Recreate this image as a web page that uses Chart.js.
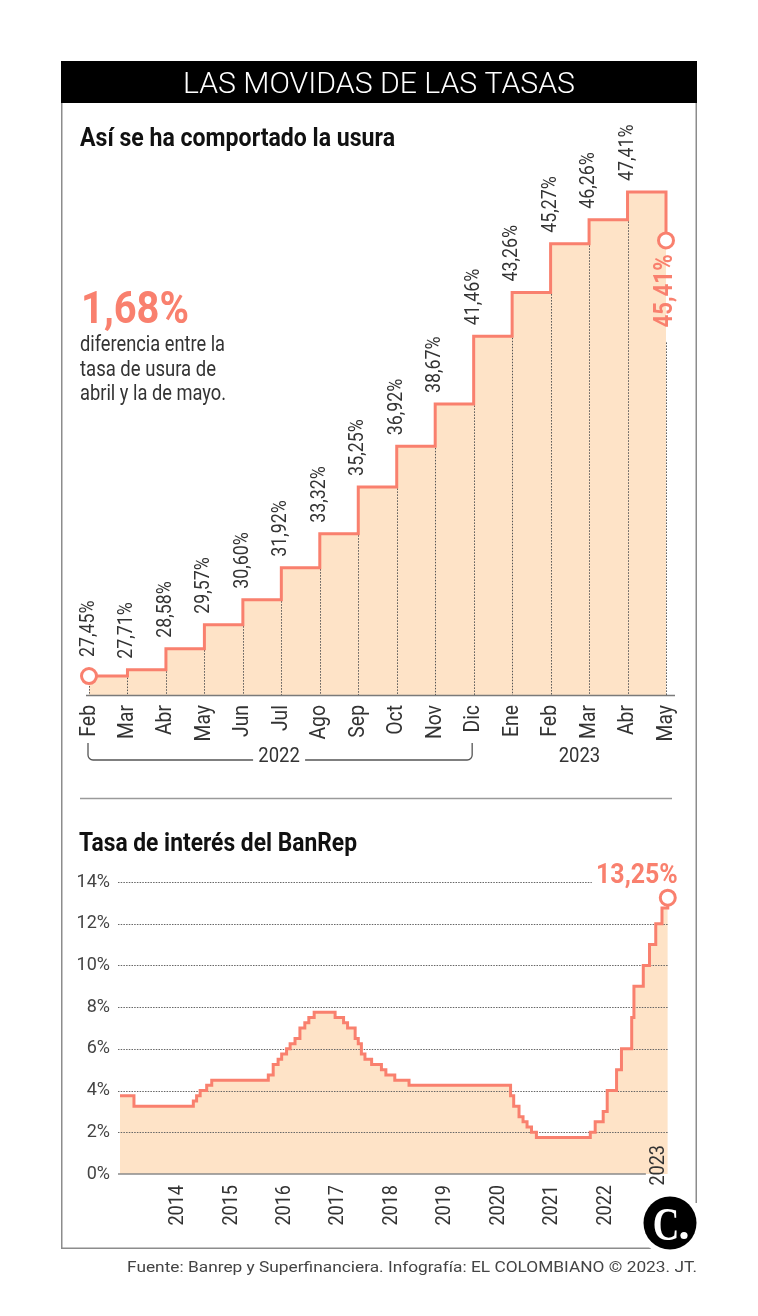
<!DOCTYPE html>
<html>
<head>
<meta charset="utf-8">
<script src="https://cdn.jsdelivr.net/npm/chart.js@4.4.0/dist/chart.umd.min.js"></script>
<style>
  html, body { margin: 0; padding: 0; background: #fff; }
  #wrap { position: relative; width: 758px; height: 1316px; overflow: hidden; background: #fff; }
  canvas { position: absolute; }
  #bg { left: 0; top: 0; }
  #c1 { left: 61px; top: 104px; }
  #c2 { left: 61px; top: 856px; }
</style>
</head>
<body>
<div id="wrap">
  <canvas id="bg" width="758" height="1316"></canvas>
  <canvas id="c1" width="636" height="700"></canvas>
  <canvas id="c2" width="636" height="394"></canvas>
</div>
<script>
// ---------------- DATA ----------------
const usuraMonths = ['Feb','Mar','Abr','May','Jun','Jul','Ago','Sep','Oct','Nov','Dic','Ene','Feb','Mar','Abr','May'];
const usuraRates  = [27.45, 27.71, 28.58, 29.57, 30.60, 31.92, 33.32, 35.25, 36.92, 38.67, 41.46, 43.26, 45.27, 46.26, 47.41, 45.41];
const usuraYears  = ['2022', '2023'];

const banrepDates = [
  '2012-12-01','2013-03-05','2014-04-15','2014-05-07','2014-06-01','2014-07-15','2014-08-19',
  '2015-09-10','2015-10-13','2015-11-16','2015-12-10','2016-01-13','2016-02-07','2016-03-10',
  '2016-04-13','2016-05-16','2016-06-13','2016-07-19','2016-12-10','2017-02-07','2017-03-04',
  '2017-04-25','2017-05-16','2017-06-07','2017-07-01','2017-08-16','2017-10-22','2017-11-22',
  '2018-01-22','2018-04-28','2020-03-22','2020-04-13','2020-05-19','2020-06-16','2020-07-13',
  '2020-08-13','2020-09-16','2021-09-19','2021-10-22','2021-12-16','2022-01-13','2022-03-16',
  '2022-04-19','2022-06-28','2022-07-13','2022-09-16','2022-10-28','2022-12-10','2023-01-22',
  '2023-03-01'
];
const banrepRates = [
  3.75, 3.25, 3.50, 3.75, 4.00, 4.25, 4.50,
  4.75, 5.25, 5.50, 5.75, 6.00, 6.25, 6.50,
  7.00, 7.25, 7.50, 7.75, 7.50, 7.25, 7.00,
  6.50, 6.25, 5.75, 5.50, 5.25, 5.00, 4.75,
  4.50, 4.25, 3.75, 3.25, 2.75, 2.50, 2.25,
  2.00, 1.75, 2.00, 2.50, 3.00, 4.00, 5.00,
  6.00, 7.50, 9.00, 10.00, 11.00, 12.00, 12.75,
  13.25
];
const banrepYearTicks = [2014, 2015, 2016, 2017, 2018, 2019, 2020, 2021, 2022, 2023];
const banrepPctTicks  = [0, 2, 4, 6, 8, 10, 12, 14];

const headerTitle = 'LAS MOVIDAS DE LAS TASAS';
const title1 = 'Así se ha comportado la usura';
const title2 = 'Tasa de interés del BanRep';
const diffValue = '1,68%';
const diffText = ['diferencia entre la', 'tasa de usura de', 'abril y la de mayo.'];
const footer = 'Fuente: Banrep y Superfinanciera. Infografía: EL COLOMBIANO © 2023. JT.';

// ---------------- STYLE ----------------
const SALMON = '#F9806E';
const PEACH  = '#FEE3C7';
const INK    = '#333333';
const FONT   = 'Roboto, "Noto Sans", sans-serif';

function fmt(v) { return v.toFixed(2).replace('.', ',') + '%'; }
function monthIndex(d) {
  const [y, m, dd] = d.split('-').map(Number);
  return (y - 2014) * 12 + (m - 1) + (dd - 1) / 30;
}

// text helper with horizontal condensing (along reading direction)
function txt(ctx, s, x, y, o = {}) {
  ctx.save();
  ctx.font = `${o.weight || 400} ${o.size || 16}px ${o.family || FONT}`;
  ctx.fillStyle = o.color || INK;
  ctx.textBaseline = o.baseline || 'alphabetic';
  ctx.textAlign = 'left';
  ctx.translate(x, y);
  if (o.rot) ctx.rotate(o.rot);
  const w = ctx.measureText(s).width;
  const sx = o.width ? o.width / w : (o.sx || 1);
  ctx.scale(sx, 1);
  const ox = o.align === 'center' ? -w / 2 : (o.align === 'right' ? -w : 0);
  ctx.fillText(s, ox, 0);
  ctx.restore();
}

// ---------------- STATIC LAYER ----------------
(function drawStatic() {
  const ctx = document.getElementById('bg').getContext('2d');
  // frame
  ctx.strokeStyle = '#8c8c8c';
  ctx.lineWidth = 1.5;
  ctx.beginPath();
  ctx.moveTo(61.75, 61); ctx.lineTo(61.75, 1248.25); ctx.lineTo(652, 1248.25);
  ctx.moveTo(696.25, 103); ctx.lineTo(696.25, 1203);
  ctx.stroke();
  // header
  ctx.fillStyle = '#000';
  ctx.fillRect(61, 61, 636, 42);
  txt(ctx, headerTitle, 379, 93, { size: 30, weight: 300, color: '#fff', align: 'center', width: 392 });
  // titles
  txt(ctx, title1, 80, 146, { size: 25, weight: 700, color: '#111', width: 315 });
  txt(ctx, title2, 79, 851, { size: 25, weight: 700, color: '#111', width: 278 });
  // big number + text
  txt(ctx, diffValue, 81, 323, { size: 44, weight: 700, color: SALMON, width: 108 });
  const bw = [145, 136, 146];
  diffText.forEach((s, i) => txt(ctx, s, 80, 351 + i * 24.5, { size: 21.5, color: INK, width: bw[i] }));
  // separator
  ctx.strokeStyle = '#9a9a9a';
  ctx.lineWidth = 1.5;
  ctx.beginPath(); ctx.moveTo(80, 798.5); ctx.lineTo(672, 798.5); ctx.stroke();
  // logo
  ctx.fillStyle = '#fff';
  ctx.beginPath(); ctx.arc(670, 1223, 32, 0, Math.PI * 2); ctx.fill();
  ctx.fillStyle = '#000';
  ctx.beginPath(); ctx.arc(670, 1223, 26.5, 0, Math.PI * 2); ctx.fill();
  txt(ctx, 'C', 666, 1240, { size: 46, weight: 700, family: '"Liberation Serif", "DejaVu Serif", serif', color: '#fff', align: 'center', sx: 0.8 });
  ctx.fillStyle = '#fff';
  ctx.beginPath(); ctx.arc(684, 1235.5, 3.6, 0, Math.PI * 2); ctx.fill();
  // footer
  txt(ctx, footer, 697, 1272, { size: 15.5, color: '#444', align: 'right', width: 570 });
})();

// ---------------- TOP CHART: USURA ----------------
const usuraDeco = {
  id: 'usuraDeco',
  afterDatasetDraw(chart, args) {
    if (args.index !== 0) return;
    const { ctx, chartArea } = chart;
    const xs = chart.scales.x, ys = chart.scales.y;
    const n = usuraRates.length;
    ctx.save();
    ctx.strokeStyle = '#555';
    ctx.lineWidth = 1;
    ctx.setLineDash([1.5, 1.5]);
    for (let i = 0; i < n; i++) {
      const x = Math.round(xs.getPixelForValue(i)) + 0.5;
      let y0;
      if (i === 0) y0 = ys.getPixelForValue(usuraRates[0]) + 10;
      else if (i === n - 1) y0 = ys.getPixelForValue(usuraRates[n - 1]) + 102;
      else y0 = ys.getPixelForValue(Math.min(usuraRates[i], usuraRates[i - 1])) + 1.5;
      ctx.beginPath(); ctx.moveTo(x, y0); ctx.lineTo(x, chartArea.bottom); ctx.stroke();
    }
    ctx.restore();
  },
  afterDraw(chart) {
    const { ctx, chartArea } = chart;
    const xs = chart.scales.x, ys = chart.scales.y;
    const n = usuraRates.length;
    const bottom = chartArea.bottom;
    ctx.save();
    // axis line
    ctx.strokeStyle = '#7a7a7a';
    ctx.lineWidth = 1.5;
    ctx.beginPath();
    ctx.moveTo(xs.getPixelForValue(0) - 3, bottom + 0.5);
    ctx.lineTo(xs.getPixelForValue(n - 1) + 9, bottom + 0.5);
    ctx.stroke();
    // value labels
    for (let i = 0; i < n - 1; i++) {
      const x = xs.getPixelForValue(i);
      const y = ys.getPixelForValue(usuraRates[i]) - (i === 0 ? 19 : 11);
      txt(ctx, fmt(usuraRates[i]), x, y, { size: 20, sx: 0.89, rot: -Math.PI / 2, align: 'left', baseline: 'middle', color: INK });
    }
    {
      const x = xs.getPixelForValue(n - 1);
      const y = ys.getPixelForValue(usuraRates[n - 1]) + 14;
      txt(ctx, fmt(usuraRates[n - 1]), x, y, { size: 25, weight: 700, sx: 0.89, rot: -Math.PI / 2, align: 'right', baseline: 'middle', color: SALMON });
    }
    // month labels
    for (let i = 0; i < n; i++) {
      const x = xs.getPixelForValue(i);
      txt(ctx, usuraMonths[i], x, bottom + 10, { size: 22, sx: 0.88, rot: -Math.PI / 2, align: 'right', baseline: 'middle', color: INK });
    }
    // bracket for 2022
    const xa = xs.getPixelForValue(0) - 1, xb = xs.getPixelForValue(10) - 1.5;
    const yl = bottom + 65, yt = bottom + 48, r = 5;
    const cx = (xa + xb) / 2;
    ctx.strokeStyle = '#555';
    ctx.lineWidth = 1.3;
    ctx.beginPath();
    ctx.moveTo(xa, yt); ctx.lineTo(xa, yl - r); ctx.arcTo(xa, yl, xa + r, yl, r); ctx.lineTo(cx - 27, yl);
    ctx.moveTo(cx + 25, yl); ctx.lineTo(xb - r, yl); ctx.arcTo(xb, yl, xb, yl - r, r); ctx.lineTo(xb, yt);
    ctx.stroke();
    txt(ctx, usuraYears[0], cx - 1, yl - 3, { size: 21, sx: 0.88, align: 'center', baseline: 'middle', color: INK });
    txt(ctx, usuraYears[1], xs.getPixelForValue(12.75), yl - 3, { size: 21, sx: 0.88, align: 'center', baseline: 'middle', color: INK });
    ctx.restore();
  }
};

new Chart(document.getElementById('c1'), {
  type: 'line',
  data: {
    labels: usuraMonths,
    datasets: [
      { data: usuraRates, stepped: true, fill: 'start', backgroundColor: PEACH,
        borderColor: 'rgba(0,0,0,0)', borderWidth: 0, pointRadius: 0, order: 2 },
      { data: usuraRates, stepped: true, fill: false, borderColor: SALMON, borderWidth: 3,
        borderJoinStyle: 'miter', borderCapStyle: 'butt',
        pointRadius: c => (c.dataIndex === 0 || c.dataIndex === usuraRates.length - 1) ? 7.5 : 0,
        pointHoverRadius: 0, pointBackgroundColor: '#fff', pointBorderColor: SALMON, pointBorderWidth: 3,
        clip: false, order: 1 }
    ]
  },
  options: {
    responsive: false, animation: false, events: [],
    layout: { padding: { left: 28, right: 31, top: 36, bottom: 109 } },
    scales: {
      x: { type: 'category', display: false, offset: false },
      y: { display: false, min: 26.67, max: 49.55 }
    },
    plugins: { legend: { display: false }, tooltip: { enabled: false } }
  },
  plugins: [usuraDeco]
});

// ---------------- BOTTOM CHART: BANREP ----------------
const banrepPoints = banrepDates.map((d, i) => ({ x: monthIndex(d), y: banrepRates[i] }));
const lastLabel = fmt(banrepRates[banrepRates.length - 1]);

const banrepDeco = {
  id: 'banrepDeco',
  afterDatasetDraw(chart, args) {
    if (args.index !== 0) return;
    const { ctx, chartArea } = chart;
    const xs = chart.scales.x, ys = chart.scales.y;
    ctx.save();
    ctx.strokeStyle = '#666';
    ctx.lineWidth = 1;
    ctx.setLineDash([1.5, 1.2]);
    banrepPctTicks.forEach(t => {
      if (t === 0) return;
      const y = Math.round(ys.getPixelForValue(t)) + 0.5;
      ctx.beginPath(); ctx.moveTo(chartArea.left, y); ctx.lineTo(chartArea.right, y); ctx.stroke();
    });
    ctx.setLineDash([]);
    ctx.strokeStyle = '#8a8a8a';
    ctx.lineWidth = 1.5;
    const y0 = ys.getPixelForValue(0);
    const x23 = xs.getPixelForValue((2023 - 2014) * 12);
    ctx.beginPath(); ctx.moveTo(chartArea.left, y0); ctx.lineTo(x23 - 13, y0); ctx.stroke();
    ctx.restore();
  },
  afterDraw(chart) {
    const { ctx, chartArea } = chart;
    const xs = chart.scales.x, ys = chart.scales.y;
    ctx.save();
    banrepPctTicks.forEach(t => {
      txt(ctx, t + '%', chartArea.left - 8, ys.getPixelForValue(t), { size: 18, align: 'right', baseline: 'middle', color: '#444' });
    });
    banrepYearTicks.forEach(yr => {
      const x = xs.getPixelForValue((yr - 2014) * 12);
      const y = yr === 2023 ? chartArea.bottom - 29 : chartArea.bottom + 11;
      txt(ctx, String(yr), x, y, { size: 21, sx: 0.86, rot: -Math.PI / 2, align: 'right', baseline: 'middle', color: INK });
    });
    const lp = banrepPoints[banrepPoints.length - 1];
    const lx = xs.getPixelForValue(lp.x);
    const ly = ys.getPixelForValue(lp.y);
    ctx.fillStyle = '#fff';
    ctx.fillRect(lx - 76, ly - 36, 92, 23);
    txt(ctx, lastLabel, lx + 10, ly - 14.5, { size: 28, weight: 700, sx: 0.89, align: 'right', color: SALMON });
    ctx.restore();
  }
};

new Chart(document.getElementById('c2'), {
  type: 'line',
  data: {
    datasets: [
      { data: banrepPoints, stepped: true, fill: 'origin', backgroundColor: PEACH,
        borderColor: 'rgba(0,0,0,0)', borderWidth: 0, pointRadius: 0, order: 2 },
      { data: banrepPoints, stepped: true, fill: false, borderColor: SALMON, borderWidth: 3,
        borderJoinStyle: 'miter', borderCapStyle: 'butt',
        pointRadius: c => (c.dataIndex === banrepPoints.length - 1) ? 7.5 : 0,
        pointHoverRadius: 0, pointBackgroundColor: '#fff', pointBorderColor: SALMON, pointBorderWidth: 3,
        clip: false, order: 1 }
    ]
  },
  options: {
    responsive: false, animation: false, events: [], parsing: true,
    layout: { padding: { left: 57, right: 29, top: 26, bottom: 76 } },
    scales: {
      x: { type: 'linear', display: false, min: -13.45, max: 110.05 },
      y: { display: false, min: 0, max: 14 }
    },
    plugins: { legend: { display: false }, tooltip: { enabled: false } }
  },
  plugins: [banrepDeco]
});
</script>
</body>
</html>
